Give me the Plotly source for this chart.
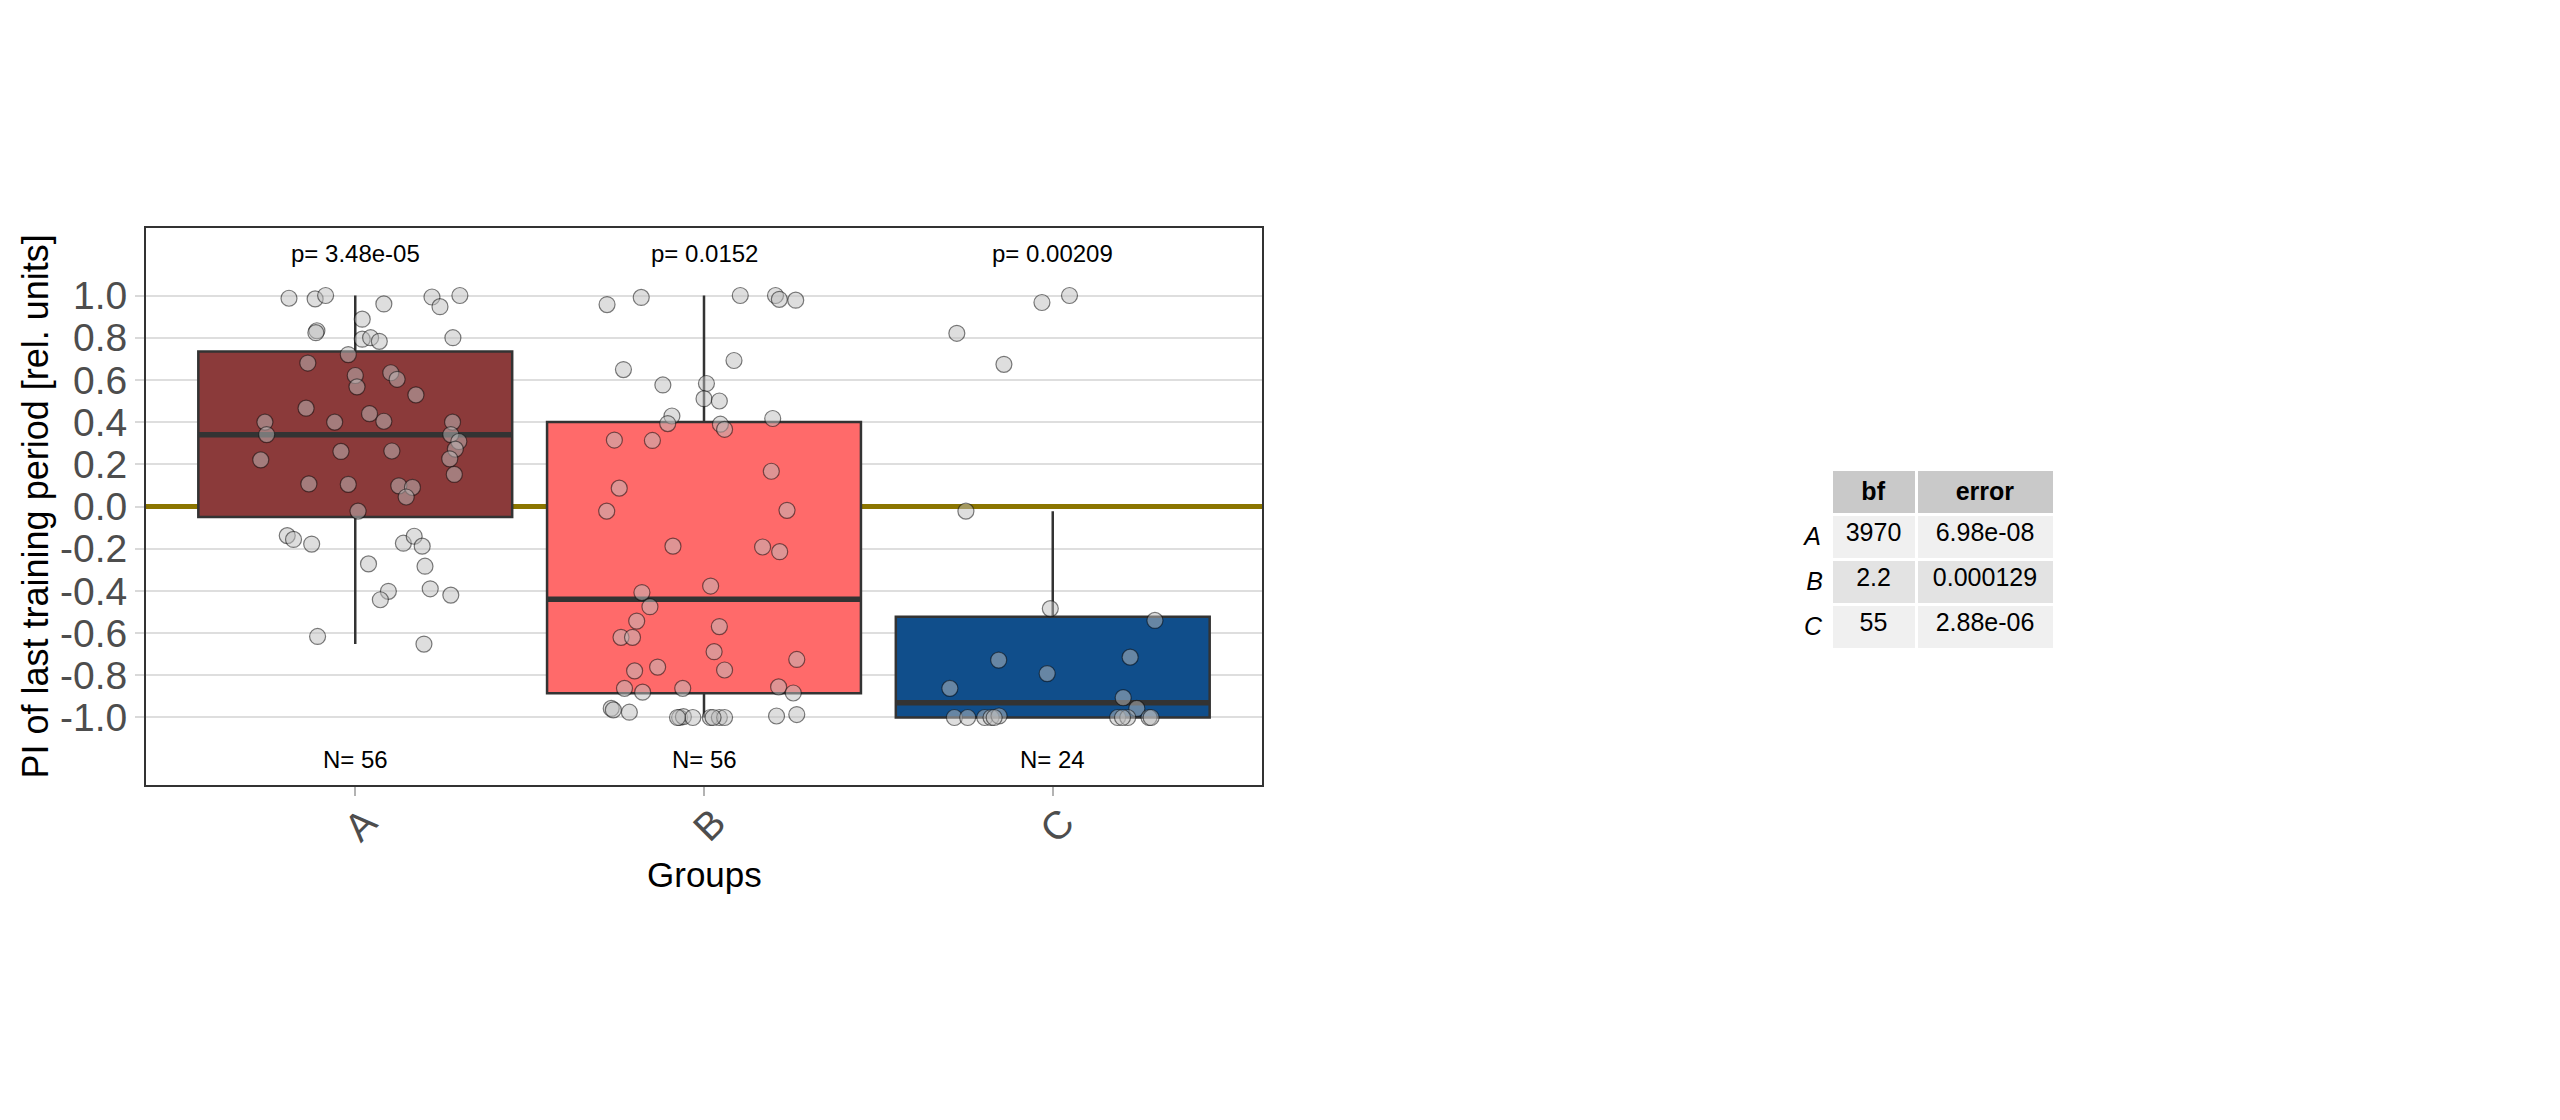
import plotly.graph_objects as go

# groups and summary text
groups = ["A", "B", "C"]
group_pos = [1, 2, 3]
p_values = ["p= 3.48e-05", "p= 0.0152", "p= 0.00209"]
n_counts = [56, 56, 24]
box_colors = ["#8B3A3A", "#FF6A6A", "#104E8B"]

# box statistics
q1 = [-0.05, -0.885, -1.0]
median = [0.34, -0.44, -0.93]
q3 = [0.735, 0.40, -0.522]
lower_fence = [-0.652, -1.0, -1.0]
upper_fence = [1.0, 1.0, -0.022]

# individual observations (value, horizontal jitter)
a_values = [0.987, 0.984, 1.0, 0.96, 0.993, 0.947, 1.0, 0.888, 0.833, 0.824,
            0.793, 0.80, 0.783, 0.80, 0.72, 0.68, 0.621, 0.567, 0.634, 0.603,
            0.529, 0.466, 0.44, 0.40, 0.404, 0.40, 0.341, 0.40, 0.341, 0.308,
            0.272, 0.226, 0.152, 0.221, 0.261, 0.263, 0.107, 0.105, 0.098, 0.091,
            0.045, -0.022, -0.138, -0.156, -0.178, -0.174, -0.141, -0.188, -0.272, -0.283,
            -0.402, -0.442, -0.39, -0.42, -0.616, -0.652]
a_jitter = [-0.19, -0.115, -0.085, 0.082, 0.22, 0.243, 0.30, 0.02, -0.11, -0.113,
            0.02, 0.044, 0.069, 0.28, -0.02, -0.136, 0.0, 0.005, 0.102, 0.12,
            0.174, -0.141, 0.041, -0.059, 0.082, -0.259, -0.254, 0.279, 0.274, 0.297,
            0.287, 0.271, 0.284, -0.271, -0.041, 0.105, -0.133, -0.02, 0.125, 0.164,
            0.146, 0.008, -0.195, -0.177, -0.125, 0.138, 0.169, 0.192, 0.038, 0.20,
            0.095, 0.072, 0.215, 0.274, -0.108, 0.197]

b_values = [0.957, 0.991, 1.0, 1.0, 0.982, 0.978, 0.649, 0.692, 0.576, 0.583,
            0.511, 0.50, 0.429, 0.393, 0.39, 0.366, 0.417, 0.315, 0.313, 0.167,
            0.087, -0.022, -0.018, -0.188, -0.192, -0.214, -0.408, -0.377, -0.475, -0.543,
            -0.62, -0.62, -0.569, -0.688, -0.725, -0.761, -0.779, -0.775, -0.862, -0.88,
            -0.862, -0.855, -0.884, -0.957, -0.964, -0.975, -1.0, -0.996, -1.0, -1.0,
            -1.0, -1.0, -0.993, -0.986, -1.0, -1.0]
b_jitter = [-0.278, -0.18, 0.104, 0.205, 0.216, 0.263, -0.231, 0.086, -0.118, 0.007,
            0.0, 0.044, -0.092, -0.104, 0.047, 0.059, 0.197, -0.257, -0.148, 0.193,
            -0.243, -0.279, 0.238, -0.089, 0.168, 0.217, -0.178, 0.019, -0.155, -0.193,
            -0.238, -0.205, 0.044, 0.029, 0.266, -0.133, -0.199, 0.059, -0.228, -0.176,
            -0.061, 0.214, 0.256, -0.266, -0.26, -0.214, -0.07, -0.059, -0.032, 0.018,
            0.044, 0.059, 0.208, 0.266, -0.076, 0.026]

c_values = [0.821, 0.674, 0.967, 1.0, -0.022, -0.484, -0.54, -0.728, -0.714, -0.792,
            -0.862, -0.906, -0.957, -1.0, -1.0, -1.0, -1.0, -0.993, -1.0, -1.0,
            -1.0, -1.0, -1.0, -1.0]
c_jitter = [-0.275, -0.14, -0.031, 0.048, -0.249, -0.007, 0.293, -0.155, 0.222, -0.016,
            -0.295, 0.202, 0.241, -0.282, -0.244, -0.195, -0.177, -0.154, 0.186, 0.215,
            0.276, 0.282, -0.168, 0.2]

y_tick_vals = [1.0, 0.8, 0.6, 0.4, 0.2, 0.0, -0.2, -0.4, -0.6, -0.8, -1.0]
y_tick_labels = ["1.0", "0.8", "0.6", "0.4", "0.2", "0.0", "-0.2", "-0.4", "-0.6", "-0.8", "-1.0"]

# bayes factor table
table_rows = ["A", "B", "C"]
bf = ["3970", "2.2", "55"]
bf_error = ["6.98e-08", "0.000129", "2.88e-06"]

FONT = "Liberation Sans, Arial, sans-serif"
W, H = 2560, 1120
OFF = 8  # page body margin


def px_x(v):
    return (v - OFF) / W


def px_y(v):
    return 1 - (v - OFF) / H


fig = go.Figure()

for i, g in enumerate(groups):
    fig.add_trace(go.Box(
        x=[group_pos[i]], q1=[q1[i]], median=[median[i]], q3=[q3[i]],
        lowerfence=[lower_fence[i]], upperfence=[upper_fence[i]],
        fillcolor=box_colors[i], line=dict(color="#333333", width=2.5),
        width=0.9, whiskerwidth=0, boxpoints=False, showlegend=False, hoverinfo="skip"))
    # thicker median bar
    fig.add_trace(go.Box(
        x=[group_pos[i]], q1=[median[i]], median=[median[i]], q3=[median[i]],
        lowerfence=[median[i]], upperfence=[median[i]],
        fillcolor="rgba(0,0,0,0)", line=dict(color="#333333", width=5.5),
        width=0.9, whiskerwidth=0, boxpoints=False, showlegend=False, hoverinfo="skip"))

for pos, vals, jit in zip(group_pos, [a_values, b_values, c_values], [a_jitter, b_jitter, c_jitter]):
    fig.add_trace(go.Scatter(
        x=[pos + j for j in jit], y=vals, mode="markers", showlegend=False,
        marker=dict(size=16, color="rgba(190,190,190,0.5)",
                    line=dict(color="rgba(0,0,0,0.5)", width=1.2))))

for i in range(len(groups)):
    fig.add_annotation(x=group_pos[i], y=1.2, text=p_values[i], showarrow=False,
                       font=dict(family=FONT, size=24, color="black"))
    fig.add_annotation(x=group_pos[i], y=-1.2, text=f"N= {n_counts[i]}", showarrow=False,
                       font=dict(family=FONT, size=24, color="black"))

fig.add_trace(go.Table(
    domain=dict(x=[px_x(1795), px_x(2054)], y=[0.3, px_y(469)]),
    columnwidth=[36, 85, 138],
    header=dict(values=["", "<b>bf</b>", "<b>error</b>"],
                fill_color=["white", "#c9c9c9", "#c9c9c9"],
                line=dict(color="white", width=3),
                align=["right", "center", "center"], height=45,
                font=dict(family=FONT, size=25, color="black")),
    cells=dict(values=[[f"<i>{r}</i>" for r in table_rows], bf, bf_error],
               fill_color=[["white"] * 3,
                           ["#f0f0f0", "#e3e3e3", "#f0f0f0"],
                           ["#f0f0f0", "#e3e3e3", "#f0f0f0"]],
               line=dict(color="white", width=3),
               align=["right", "center", "center"], height=45,
               font=dict(family=FONT, size=25, color="black"))))

fig.add_annotation(xref="paper", yref="paper", x=px_x(35), y=px_y(506.5),
                   xanchor="center", yanchor="middle",
                   text="PI of last training period [rel. units]", textangle=-90,
                   showarrow=False, font=dict(family=FONT, size=36, color="black"))
fig.add_annotation(xref="paper", yref="paper", x=px_x(704), y=px_y(874),
                   xanchor="center", yanchor="middle",
                   text="Groups", showarrow=False,
                   font=dict(family=FONT, size=35, color="black"))

fig.update_layout(
    width=W, height=H, margin=dict(l=0, r=0, t=0, b=0),
    paper_bgcolor="white", plot_bgcolor="white", boxmode="overlay",
    font=dict(family=FONT),
    xaxis=dict(domain=[px_x(146), px_x(1262)], range=[0.4, 3.6],
               tickvals=group_pos, ticktext=groups, tickangle=-45,
               tickfont=dict(family=FONT, size=39, color="#4d4d4d"),
               ticklabelstandoff=-12, ticklabelshift=10,
               ticks="outside", ticklen=9, tickcolor="#b3b3b3", tickwidth=2,
               showgrid=False, zeroline=False,
               showline=True, mirror=True, linecolor="#333333", linewidth=2),
    yaxis=dict(domain=[px_y(785), px_y(228)], range=[-1.32, 1.32],
               tickvals=y_tick_vals, ticktext=y_tick_labels,
               tickfont=dict(family=FONT, size=39, color="#4d4d4d"),
               ticks="outside", ticklen=9, tickcolor="#d9d9d9", tickwidth=2,
               showgrid=True, gridcolor="#dedede", gridwidth=2,
               zeroline=True, zerolinecolor="#8B7500", zerolinewidth=5,
               showline=True, mirror=True, linecolor="#333333", linewidth=2),
)

fig.write_html("out.html")
